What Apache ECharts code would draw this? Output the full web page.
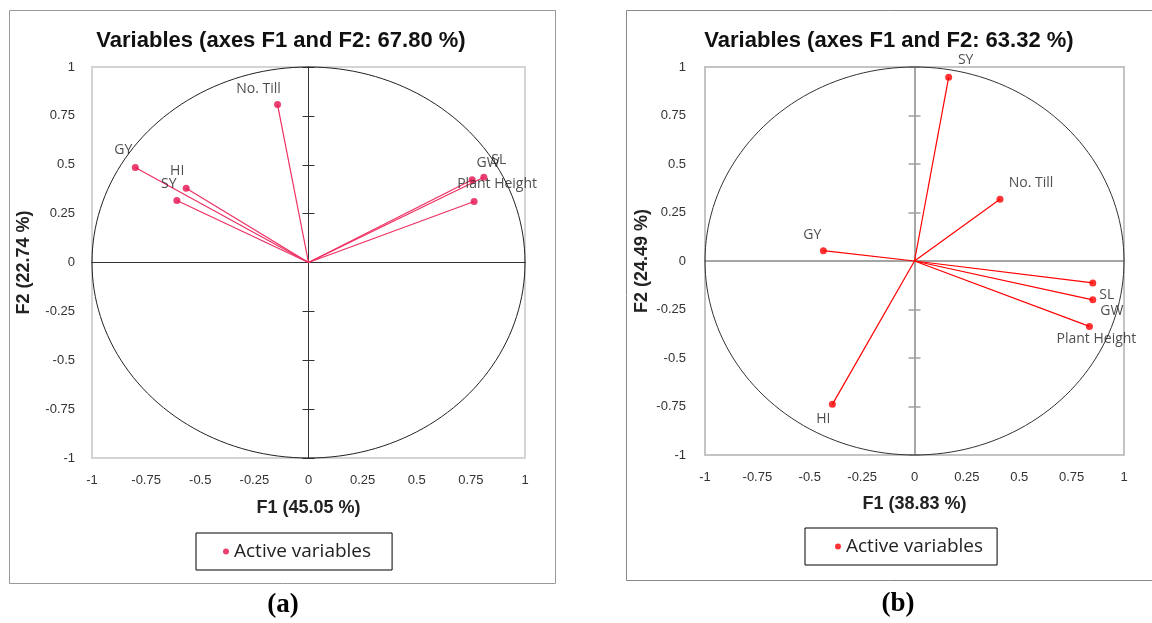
<!DOCTYPE html>
<html>
<head>
<meta charset="utf-8">
<title>PCA correlation circles</title>
<script src="https://cdn.jsdelivr.net/npm/echarts@6/dist/echarts.min.js"></script>
<style>
	html, body { margin: 0; padding: 0; background: #fff; }
	#main { width: 1152px; height: 623px; }
</style>
</head>
<body>
<div id="main"></div>
<script>
// panel (a)
var varsA = ["No. Till", "GY", "HI", "SY", "GW", "SL", "Plant Height"];
var f1A = [-0.143, -0.80, -0.565, -0.608, 0.756, 0.81, 0.765];
var f2A = [0.808, 0.486, 0.38, 0.317, 0.423, 0.436, 0.312];
// panel (b)
var varsB = ["SY", "No. Till", "GY", "SL", "GW", "Plant Height", "HI"];
var f1B = [0.163, 0.408, -0.435, 0.851, 0.851, 0.835, -0.392];
var f2B = [0.947, 0.318, 0.053, -0.113, -0.2, -0.337, -0.739];
// axis ticks
var axisMin = -1;
var axisMax = 1;
var tickStep = 0.25;

// where each variable name sits relative to its dot
var offA = {
	"No. Till": [-19, -16], "GY": [-12, -17], "HI": [-9, -17], "SY": [-8, -17],
	"GW": [16, -17], "SL": [15, -17], "Plant Height": [23, -17]
};
var offB = {
	"SY": [17, -17], "No. Till": [31, -16], "GY": [-11, -16], "SL": [14, 12],
	"GW": [19, 11], "Plant Height": [7, 13], "HI": [-9, 15]
};

function zip(x, y, names) {
	var out = [];
	for (var i = 0; i < x.length; i++) {
		out.push([x[i], y[i], names[i]]);
	}
	return out;
}

function vectorItem(color) {
	return function(params, api) {
		var o = api.coord([0, 0]);
		var p = api.coord([api.value(0), api.value(1)]);
		return {
			type: "line",
			shape: { x1: o[0], y1: o[1], x2: p[0], y2: p[1] },
			style: { stroke: color, lineWidth: 1.2 }
		};
	};
}

function circleItem(color) {
	return function(params, api) {
		var pts = [];
		for (var i = 0; i <= 360; i += 2) {
			var t = i * Math.PI / 180;
			pts.push(api.coord([Math.cos(t), Math.sin(t)]));
		}
		return {
			type: "polyline",
			shape: { points: pts },
			style: { stroke: color, fill: "none", lineWidth: 1 }
		};
	};
}

var tickFont = { fontFamily: "Liberation Sans", fontSize: 13, color: "#333" };
var nameFont = { fontFamily: "Liberation Sans", fontSize: 18, fontWeight: "bold", color: "#222" };

function labelAxis(grid, name, gap, margin) {
	return {
		type: "value", gridIndex: grid, min: axisMin, max: axisMax, interval: tickStep,
		name: name, nameLocation: "middle", nameGap: gap, nameTextStyle: nameFont,
		axisLine: { show: false, onZero: false },
		axisTick: { show: false },
		splitLine: { show: false },
		axisLabel: Object.assign({ margin: margin }, tickFont)
	};
}

function zeroAxis(grid, zeroOf, inside, color, width, ticks) {
	return {
		type: "value", gridIndex: grid, min: axisMin, max: axisMax, interval: tickStep,
		axisLine: { show: true, onZero: true, onZeroAxisIndex: zeroOf, lineStyle: { color: color, width: width } },
		axisTick: { show: ticks, inside: inside, length: 6, lineStyle: { color: color, width: width } },
		axisLabel: { show: false },
		splitLine: { show: false }
	};
}

var colA = "#E5124F", lineA = "#EE2F62";
var colB = "#FF0000", lineB = "#FF0000";

function pointSeries(x, y, data, color, off) {
	return {
		name: "Active variables", type: "scatter", xAxisIndex: x, yAxisIndex: y,
		data: data, symbolSize: 7, z: 4,
		itemStyle: { color: color },
		label: {
			show: true, position: "inside",
			fontFamily: "Open Sans", fontSize: 14, color: "#222",
			formatter: function(p) { return p.value[2]; }
		},
		labelLayout: function(p) {
			var o = off[data[p.dataIndex][2]];
			return { dx: o[0], dy: o[1] };
		}
	};
}

var titleFont = { fontFamily: "Liberation Sans", fontSize: 22, fontWeight: "bold", color: "#111" };
var capFont = { fontFamily: "Liberation Serif", fontSize: 27, fontWeight: "bold", color: "#000" };
var legendFont = { fontFamily: "Open Sans", fontSize: 19, color: "#222" };

var chart = echarts.init(document.getElementById("main"));
var option = {
	animation: false,
	backgroundColor: "#fff",
	title: [
		{ text: "Variables (axes F1 and F2: 67.80 %)", left: 281, top: 30, textAlign: "center", padding: 0, textStyle: titleFont },
		{ text: "Variables (axes F1 and F2: 63.32 %)", left: 889, top: 30, textAlign: "center", padding: 0, textStyle: titleFont },
		{ text: "(a)", left: 283, top: 592, textAlign: "center", padding: 0, textStyle: capFont },
		{ text: "(b)", left: 898, top: 591, textAlign: "center", padding: 0, textStyle: capFont }
	],
	graphic: [{
		type: "rect", shape: { x: 9.5, y: 10.5, width: 546, height: 573 },
		style: { fill: "none", stroke: "#999", lineWidth: 1 }, z: -1
	}, {
		type: "rect", shape: { x: 626.5, y: 10.5, width: 540, height: 570 },
		style: { fill: "none", stroke: "#888", lineWidth: 1 }, z: -1
	}],
	grid: [{
		left: 92, top: 67, width: 433, height: 391,
		show: true, borderColor: "#d4d4d4", borderWidth: 2
	}, {
		left: 705, top: 67, width: 419, height: 388,
		show: true, borderColor: "#c4c4c4", borderWidth: 2
	}],
	xAxis: [
		labelAxis(0, "F1 (45.05 %)", 41, 16),
		zeroAxis(0, 0, true, "#333", 1, false),
		zeroAxis(0, 0, false, "#333", 1, false),
		labelAxis(1, "F1 (38.83 %)", 40, 16),
		zeroAxis(1, 3, true, "#a0a0a0", 1.5, false),
		zeroAxis(1, 3, false, "#a0a0a0", 1.5, false)
	],
	yAxis: [
		labelAxis(0, "F2 (22.74 %)", 59, 17),
		zeroAxis(0, 0, true, "#333", 1, true),
		zeroAxis(0, 0, false, "#333", 1, true),
		labelAxis(1, "F2 (24.49 %)", 54, 19),
		zeroAxis(1, 3, true, "#a0a0a0", 1.5, true),
		zeroAxis(1, 3, false, "#a0a0a0", 1.5, true)
	],
	legend: [{
		left: 196, top: 533, selectedMode: false,
		data: [{ name: "Active variables", itemStyle: { color: colA } }],
		icon: "circle", itemWidth: 6, itemHeight: 6,
		borderColor: "#000", borderWidth: 1, padding: [9, 21, 9, 27],
		textStyle: legendFont
	}, {
		left: 805, top: 528, selectedMode: false,
		data: [{ name: "Active variables", itemStyle: { color: colB } }],
		icon: "circle", itemWidth: 6, itemHeight: 6,
		borderColor: "#000", borderWidth: 1, padding: [9, 14, 9, 30],
		textStyle: legendFont
	}],
	series: [
		{ name: "circleA", type: "custom", xAxisIndex: 0, yAxisIndex: 0, data: [[0, 0]], renderItem: circleItem("#222"), z: 2, silent: true },
		{ name: "vectorsA", type: "custom", xAxisIndex: 0, yAxisIndex: 0, data: zip(f1A, f2A, varsA), renderItem: vectorItem(lineA), z: 3 },
		pointSeries(0, 0, zip(f1A, f2A, varsA), colA, offA),
		{ name: "circleB", type: "custom", xAxisIndex: 3, yAxisIndex: 3, data: [[0, 0]], renderItem: circleItem("#333"), z: 2, silent: true },
		{ name: "vectorsB", type: "custom", xAxisIndex: 3, yAxisIndex: 3, data: zip(f1B, f2B, varsB), renderItem: vectorItem(lineB), z: 3 },
		pointSeries(3, 3, zip(f1B, f2B, varsB), colB, offB)
	]
};
chart.setOption(option);
</script>
</body>
</html>
